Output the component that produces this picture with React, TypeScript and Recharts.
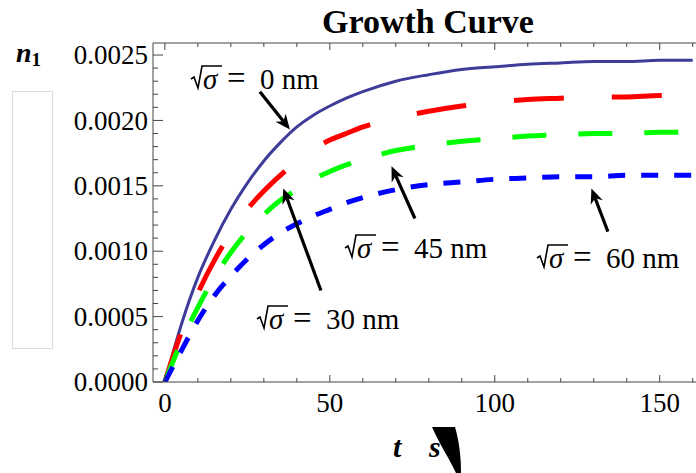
import React from 'react';
import { LineChart, Line, XAxis, YAxis, ReferenceLine } from 'recharts';

const T = [0, 5, 10, 15, 20, 25, 30, 35, 40, 45, 50, 55, 60, 70, 80, 90, 100, 110, 120, 130, 140, 150, 160];
const N_0NM = [0, 0.00044, 0.0008, 0.00108, 0.00132, 0.00152, 0.00169, 0.00183, 0.00195, 0.00204, 0.00211, 0.00217, 0.00222, 0.0023, 0.00235, 0.00239, 0.00241, 0.00243, 0.00244, 0.00245, 0.00245, 0.00246, 0.00246];
const N_30NM = [0, 0.00038, 0.00068, 0.00093, 0.00114, 0.00132, 0.00146, 0.00158, 0.00169, 0.00178, 0.00185, 0.0019, 0.00195, 0.00202, 0.00207, 0.00211, 0.00214, 0.00216, 0.00217, 0.00218, 0.00218, 0.00219, 0.00219];
const N_45NM = [0, 0.00031, 0.00057, 0.0008, 0.00099, 0.00115, 0.00128, 0.00139, 0.00147, 0.00155, 0.00161, 0.00166, 0.0017, 0.00177, 0.00181, 0.00184, 0.00186, 0.00188, 0.00189, 0.0019, 0.0019, 0.00191, 0.00191];
const N_60NM = [0, 0.00024, 0.00047, 0.00066, 0.00081, 0.00094, 0.00105, 0.00114, 0.00121, 0.00127, 0.00132, 0.00137, 0.00141, 0.00147, 0.00151, 0.00153, 0.00155, 0.00156, 0.00157, 0.00157, 0.00158, 0.00158, 0.00158];

const X_TICKS = [0, 10, 20, 30, 40, 50, 60, 70, 80, 90, 100, 110, 120, 130, 140, 150, 160];
const Y_TICKS = Array.from({ length: 26 }, (_, i) => Number((i * 0.0001).toFixed(4)));

// annotation arrows: [tail, tip] in data units
const ARROWS = [
  { from: [28.8, 0.00222], to: [37.9, 0.00193] },
  { from: [47.3, 0.0007], to: [35.9, 0.00148] },
  { from: [75.8, 0.00125], to: [68.7, 0.00165] },
  { from: [134.3, 0.00115], to: [129.3, 0.00148] },
];
const LABELS = [
  { x: 191, y: 89, text: '0 nm' },
  { x: 257, y: 329, text: '30 nm' },
  { x: 345, y: 258, text: '45 nm' },
  { x: 537, y: 268, text: '60 nm' },
];

const data = T.map((t, i) => ({ t, a: N_0NM[i], b: N_30NM[i], c: N_45NM[i], d: N_60NM[i] }));

const FONT = '"Liberation Serif", "Times New Roman", serif';
const AXIS = '#444';

const XTickBottom = (p: any) => {
  const v = p.payload.value;
  const major = v % 50 === 0;
  return (
    <g>
      <line x1={p.x} x2={p.x} y1={p.y} y2={p.y - (major ? 7 : 4)} stroke={AXIS} />
      {major && (
        <text x={p.x} y={p.y + 30} textAnchor="middle" fontSize={27} fontFamily={FONT} fill="#000">{v}</text>
      )}
    </g>
  );
};

const XTickTop = (p: any) => {
  const major = p.payload.value % 50 === 0;
  return <line x1={p.x} x2={p.x} y1={p.y} y2={p.y + (major ? 7 : 4)} stroke={AXIS} />;
};

const YTick = (p: any) => {
  const idx = Math.round(p.payload.value / 0.0001);
  const major = idx % 5 === 0;
  return (
    <g>
      <line x1={p.x} x2={p.x + (major ? 10 : 5)} y1={p.y} y2={p.y} stroke={AXIS} />
      {major && (
        <text x={p.x - 5} y={p.y} dy="0.34em" textAnchor="end" fontSize={27} fontFamily={FONT} fill="#000">
          {p.payload.value.toFixed(4)}
        </text>
      )}
    </g>
  );
};

const arrowShape = (p: any) => {
  const { x1, y1, x2, y2 } = p;
  const dx = x2 - x1, dy = y2 - y1;
  const len = Math.hypot(dx, dy) || 1;
  const ux = dx / len, uy = dy / len;
  const hl = 15, hw = 6.5;
  const bx = x2 - ux * hl, by = y2 - uy * hl;
  const nx = -uy, ny = ux;
  const mx = x2 - ux * hl * 0.7, my = y2 - uy * hl * 0.7;
  const pts = `${x2},${y2} ${bx + nx * hw},${by + ny * hw} ${mx},${my} ${bx - nx * hw},${by - ny * hw}`;
  return (
    <g>
      <line x1={x1} y1={y1} x2={mx} y2={my} stroke="#000" strokeWidth={3.2} />
      <polygon points={pts} fill="#000" />
    </g>
  );
};

const SigmaLabel = ({ x, y, text }: { x: number; y: number; text: string }) => (
  <g fontFamily={FONT} fontSize={29} fill="#000">
    <path
      d={`M${x},${y - 10} L${x + 3},${y - 12} L${x + 7},${y - 1} L${x + 11},${y - 23} L${x + 31},${y - 23}`}
      fill="none" stroke="#000" strokeWidth={1.6} strokeLinejoin="miter"
    />
    <text x={x + 12} y={y} fontStyle="italic">σ</text>
    <text x={x + 36} y={y} fontSize={33}>=</text>
    <text x={x + 69} y={y}>{text}</text>
  </g>
);

export default function App() {
  return (
    <div style={{ position: 'absolute', left: 0, top: 0, width: 696, height: 473, background: '#fff' }}>
      <div style={{ position: 'absolute', left: 12, top: 91, width: 39, height: 256, border: '1px solid #dcdcdc' }} />
      <div style={{ position: 'absolute', left: 0, top: 0 }}>
        <LineChart width={696} height={473} data={data} margin={{ top: 23, right: 0, bottom: 51, left: 0 }}>
          <XAxis
            dataKey="t" type="number" domain={[-3.6, 161]} allowDataOverflow ticks={X_TICKS} interval={0}
            tickSize={0} tickMargin={0} tickLine={false} height={40}
            axisLine={{ stroke: AXIS }} tick={<XTickBottom />}
          />
          <XAxis
            xAxisId="top" orientation="top" dataKey="t" type="number" domain={[-3.6, 161]} allowDataOverflow
            ticks={X_TICKS} interval={0} tickSize={0} tickMargin={0} tickLine={false} height={20}
            axisLine={{ stroke: AXIS }} tick={<XTickTop />}
          />
          <YAxis
            type="number" domain={[0, 0.002592]} allowDataOverflow ticks={Y_TICKS} interval={0}
            tickSize={0} tickMargin={0} tickLine={false} width={153}
            axisLine={{ stroke: AXIS }} tick={<YTick />}
          />
          <Line dataKey="a" type="monotone" stroke="#3d3d99" strokeWidth={3} dot={false} isAnimationActive={false} />
          <Line dataKey="b" type="monotone" stroke="#ff0000" strokeWidth={5} strokeDasharray="50 48" dot={false} isAnimationActive={false} />
          <Line dataKey="c" type="monotone" stroke="#00ff00" strokeWidth={5} strokeDasharray="34 32" dot={false} isAnimationActive={false} />
          <Line dataKey="d" type="monotone" stroke="#0000ff" strokeWidth={5} strokeDasharray="17 16" dot={false} isAnimationActive={false} />
          {ARROWS.map((a, i) => (
            <ReferenceLine
              key={i}
              segment={[{ x: a.from[0], y: a.from[1] }, { x: a.to[0], y: a.to[1] }]}
              shape={arrowShape}
            />
          ))}
        </LineChart>
      </div>
      <svg width={696} height={473} style={{ position: 'absolute', left: 0, top: 0, pointerEvents: 'none' }}>
        <text x={428} y={33} textAnchor="middle" fontFamily={FONT} fontWeight="bold" fontSize={34} fill="#000">Growth Curve</text>
        <text x={16} y={62} fontFamily={FONT} fontWeight="bold" fontSize={28} fill="#000">
          <tspan fontStyle="italic">n</tspan>
          <tspan fontSize={19} dy={4}>1</tspan>
        </text>
        {LABELS.map((l, i) => (
          <SigmaLabel key={i} x={l.x} y={l.y} text={l.text} />
        ))}
        <text x={393} y={457} fontFamily={FONT} fontWeight="bold" fontStyle="italic" fontSize={30} fill="#000">t</text>
        <text x={429} y={457} fontFamily={FONT} fontWeight="bold" fontStyle="italic" fontSize={30} fill="#000">s</text>
        <path d="M432,427 L455,427 C459,441 461,456 461,473 L456,473 C449,458 440,445 432,427 Z" fill="#000" />
      </svg>
    </div>
  );
}
